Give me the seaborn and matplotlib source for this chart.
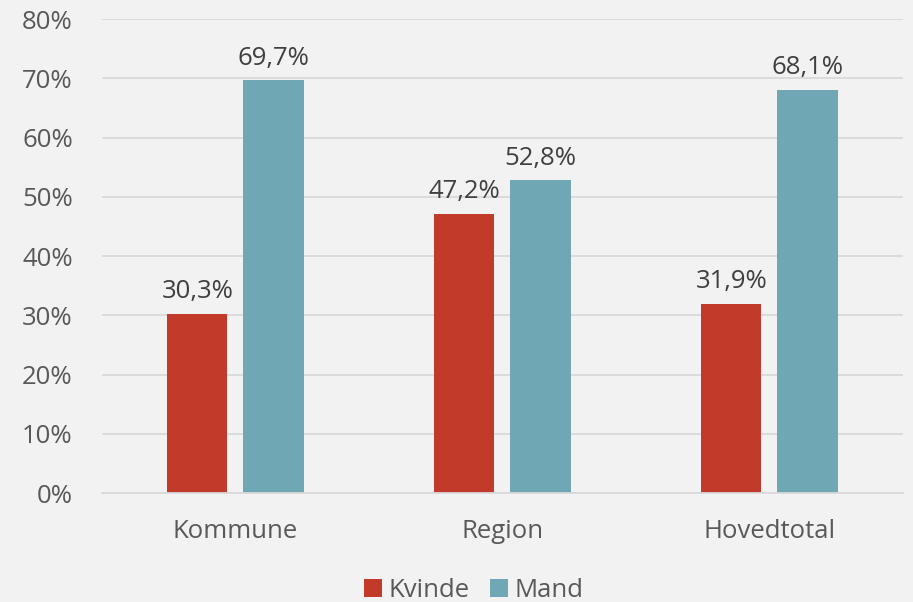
import pandas as pd
import matplotlib.pyplot as plt
import seaborn as sns

categories = ['Kommune', 'Region', 'Hovedtotal']
kvinde = [30.3, 47.2, 31.9]
mand = [69.7, 52.8, 68.1]
series = ['Kvinde', 'Mand']
yticks = [0, 10, 20, 30, 40, 50, 60, 70, 80]

df = pd.DataFrame({
    'kategori': categories * 2,
    'andel': kvinde + mand,
    'koen': ['Kvinde'] * 3 + ['Mand'] * 3,
})

sns.set_style('white')
plt.rcParams['font.family'] = ['Open Sans', 'DejaVu Sans']
bg = '#F2F2F2'
txt = '#595959'
grid = '#D9D9D9'

fig = plt.figure(figsize=(9.13, 6.02), dpi=100, facecolor=bg)
ax = fig.add_axes([0.1117, 0.181, 0.8773, 0.787])
ax.set_facecolor(bg)

sns.barplot(data=df, x='kategori', y='andel', hue='koen', hue_order=series,
            order=categories, palette=['#C23B2A', '#6FA8B4'],
            width=0.57, gap=0.21, saturation=1, linewidth=0, edgecolor='none',
            ax=ax, legend=True)

for cont in ax.containers:
    ax.bar_label(cont, labels=[f'{v:.1f}%'.replace('.', ',') for v in cont.datavalues],
                 padding=7, fontsize=18.5, color='#404040')

ax.set_ylim(0, 80)
ax.set_xlim(-0.5, 2.5)
ax.set_yticks(yticks)
ax.set_yticklabels([f'{t}%' for t in yticks])
ax.yaxis.grid(True, color=grid, linewidth=1.3)
ax.set_axisbelow(True)
for s in ['top', 'right', 'left']:
    ax.spines[s].set_visible(False)
ax.spines['bottom'].set_color(grid)
ax.spines['bottom'].set_linewidth(1.3)

ax.set_xticks([-0.5, 0.5, 1.5, 2.5], minor=True)
ax.tick_params(axis='x', which='minor', length=10, color=grid, width=1.3)
ax.tick_params(axis='x', which='major', length=0, pad=19, labelsize=18.5, labelcolor=txt)
ax.tick_params(axis='y', length=0, pad=21, labelsize=18.5, labelcolor=txt)
ax.set_xlabel('')
ax.set_ylabel('')

leg = ax.legend(loc='center', bbox_to_anchor=(0.464, -0.205), ncol=2, frameon=False,
                fontsize=18.5, handlelength=0.7, handleheight=0.7,
                handletextpad=0.25, columnspacing=0.8, labelcolor=txt)

fig.savefig('out.png', dpi=100, facecolor=bg)
